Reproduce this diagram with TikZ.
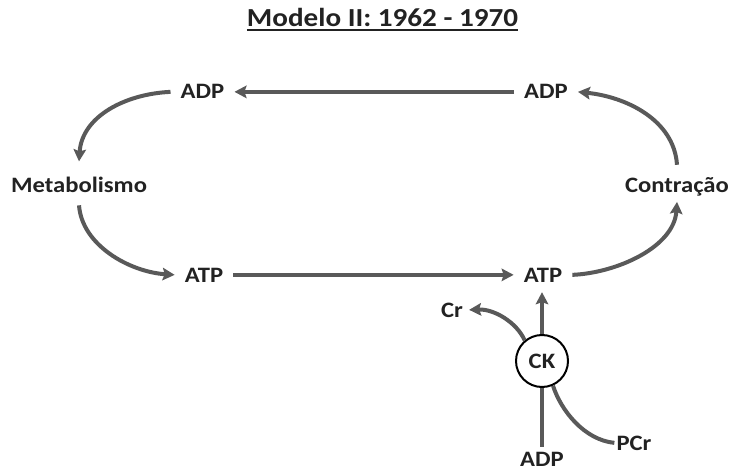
\documentclass[tikz,border=0pt]{standalone}
\usepackage{fontspec}
\setmainfont{Carlito}[FakeStretch=1.12]
\usetikzlibrary{arrows.meta}
\definecolor{arrowgray}{HTML}{595959}
\definecolor{labelink}{HTML}{222222}
\tikzset{
  lbl/.style={font=\fontsize{22}{25}\selectfont\bfseries, text=labelink,
              inner xsep=10pt, inner ysep=4pt, anchor=base},
  arr/.style={draw=arrowgray, line width=4pt, -{Stealth[length=12pt,width=12.5pt,inset=2pt]}},
  link/.style={draw=arrowgray, line width=4pt},
  enzyme/.style={circle, draw=black, line width=2pt, fill=white, minimum size=52pt, inner sep=0pt,
                 font=\fontsize{22}{25}\selectfont\bfseries, text=labelink}
}
\begin{document}
\begin{tikzpicture}[x=1pt, y=-1pt]
  \useasboundingbox (0,0) rectangle (733,470);

  % heading, underlined
  \node[font=\fontsize{26}{29}\selectfont\bfseries, text=labelink, inner sep=0pt, anchor=base] (title) at (382.5,26.7) {Modelo II: 1962 - 1970};
  \draw[labelink, line width=2.6pt] ([yshift=-3.5pt]title.base west) -- ([yshift=-3.5pt]title.base east);

  % labels of the cycle (placed by baseline)
  \node[lbl] (adpL)  at (202.5,99)  {ADP};
  \node[lbl] (adpR)  at (546,99)    {ADP};
  \node[lbl] (metab) at (79,193)    {Metabolismo};
  \node[lbl] (contr) at (677,193)   {Contração};
  \node[lbl] (atpL)  at (204,282)   {ATP};
  \node[lbl] (atpR)  at (543,282)   {ATP};

  % creatine kinase branch
  \node[lbl] (cr)   at (452,317) {Cr};
  \node[enzyme] (ck) at (542,361) {CK};
  \node[lbl, inner ysep=1pt] (adpB) at (542,466) {ADP};
  \node[lbl] (pcr)  at (634,450) {PCr};

  % cycle arrows
  \draw[arr] (adpR.west) -- (adpL.east);
  \draw[arr] (adpL.west) .. controls +(-45,2) and +(3,-45) .. ([yshift=12pt]metab.north);
  \draw[arr] ([yshift=-8pt]metab.south) .. controls +(3,40) and +(-45,-3) .. (atpL.west);
  \draw[arr] (atpL.east) -- (atpR.west);
  \draw[arr] (atpR.east) .. controls +(45,-2) and +(-3,45) .. ([yshift=-1pt]contr.south);
  \draw[arr] ([yshift=9pt]contr.north) .. controls +(-3,-45) and +(48,5) .. (adpR.east);

  % CK reaction
  \draw[arr] (ck.north) -- ([yshift=-6pt]ck.north |- atpR.south);
  \draw[arr] (ck.130) .. controls +(-8,-18) and +(25,-1) .. ([xshift=-4pt]cr.east);
  \draw[link] ([yshift=4pt]ck.south |- adpB.north) -- (ck.south);
  \draw[link] ([xshift=8pt]pcr.west) .. controls +(-30,-3) and +(8,25) .. (ck.-66);
\end{tikzpicture}
\end{document}
